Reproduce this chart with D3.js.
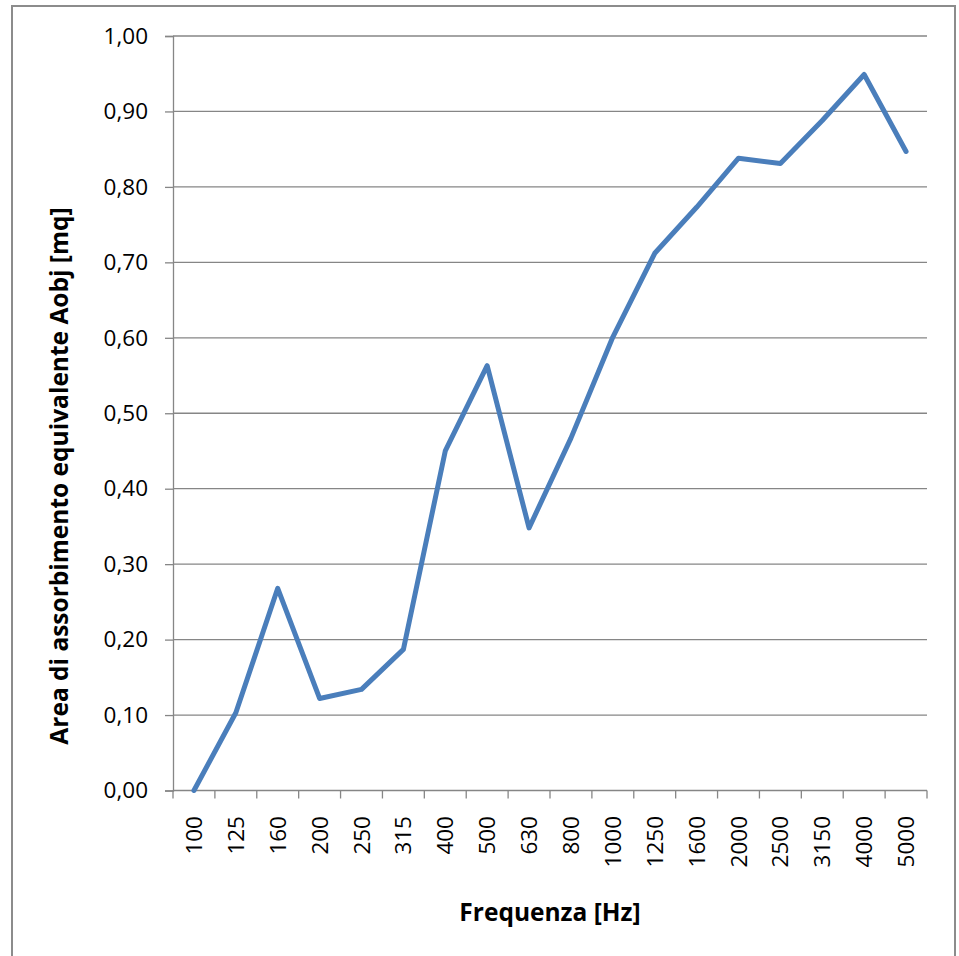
<!DOCTYPE html>
<html>
<head>
<meta charset="utf-8">
<script src="https://cdn.jsdelivr.net/npm/d3@7"></script>
<style>
  body{margin:0;background:#fff;}
  svg text{font-family:"Open Sans",sans-serif;fill:#000;}
</style>
</head>
<body>
<svg id="chart" width="959" height="956"></svg>
<script>
const width = 959;
const height = 956;

const frequencies = ['100','125','160','200','250','315','400','500','630','800','1000','1250','1600','2000','2500','3150','4000','5000'];
const areaValues = [0.00,0.103,0.268,0.122,0.134,0.187,0.450,0.563,0.348,0.467,0.601,0.712,0.773,0.838,0.831,0.888,0.949,0.847];
const yTicks = [0,0.1,0.2,0.3,0.4,0.5,0.6,0.7,0.8,0.9,1.0];

const margin = {left:173, right:959-927, top:36, bottom:956-790.5};
const svg = d3.select('#chart');

// chart border
svg.append('rect')
  .attr('x',12).attr('y',6).attr('width',943).attr('height',980)
  .attr('fill','none').attr('stroke','#8c8c8c').attr('stroke-width',2);

const x = d3.scaleBand().domain(frequencies).range([margin.left, width-margin.right]);
const y = d3.scaleLinear().domain([0,1]).range([height-margin.bottom, margin.top]);

// gridlines
svg.append('g').selectAll('line').data(yTicks.slice(1)).enter().append('line')
  .attr('x1',margin.left).attr('x2',width-margin.right)
  .attr('y1',d=>y(d)).attr('y2',d=>y(d))
  .attr('stroke','#868686').attr('stroke-width',1.3);

// y axis
const yAxis = svg.append('g').attr('transform',`translate(${margin.left},0)`)
  .call(d3.axisLeft(y).tickValues(yTicks).tickSize(8).tickPadding(17)
    .tickFormat(d=>d3.format('.2f')(d).replace('.',',')));
yAxis.selectAll('line,path').attr('stroke','#868686').attr('stroke-width',1.3);
yAxis.selectAll('text').style('font-size','22.5px').attr('fill','#000');

// x axis with ticks at category boundaries
const xAxisG = svg.append('g');
xAxisG.append('line')
  .attr('x1',margin.left).attr('x2',width-margin.right)
  .attr('y1',y(0)).attr('y2',y(0))
  .attr('stroke','#868686').attr('stroke-width',1.3);
const bounds = frequencies.map(f=>x(f)).concat([x(frequencies[frequencies.length-1])+x.bandwidth()]);
xAxisG.selectAll('line.tick').data(bounds).enter().append('line')
  .attr('class','tick')
  .attr('x1',d=>d).attr('x2',d=>d)
  .attr('y1',y(0)).attr('y2',y(0)+8)
  .attr('stroke','#868686').attr('stroke-width',1.3);
xAxisG.selectAll('text').data(frequencies).enter().append('text')
  .attr('transform',d=>`translate(${x(d)+x.bandwidth()/2+8},816) rotate(-90)`)
  .attr('text-anchor','end')
  .style('font-size','22.5px')
  .text(d=>d);

// line
const line = d3.line()
  .x((d,i)=>x(frequencies[i])+x.bandwidth()/2)
  .y(d=>y(d));
svg.append('path').datum(areaValues)
  .attr('d',line)
  .attr('fill','none')
  .attr('stroke','#4a7ebb')
  .attr('stroke-width',5)
  .attr('stroke-linejoin','round')
  .attr('stroke-linecap','round');

// axis titles
svg.append('text')
  .attr('x',550).attr('y',921)
  .attr('text-anchor','middle')
  .style('font-size','24.5px').style('font-weight','bold')
  .text('Frequenza [Hz]');

svg.append('text')
  .attr('transform','translate(68,476) rotate(-90)')
  .attr('text-anchor','middle')
  .style('font-size','24.5px').style('font-weight','bold')
  .text('Area di assorbimento equivalente Aobj [mq]');
</script>
</body>
</html>
